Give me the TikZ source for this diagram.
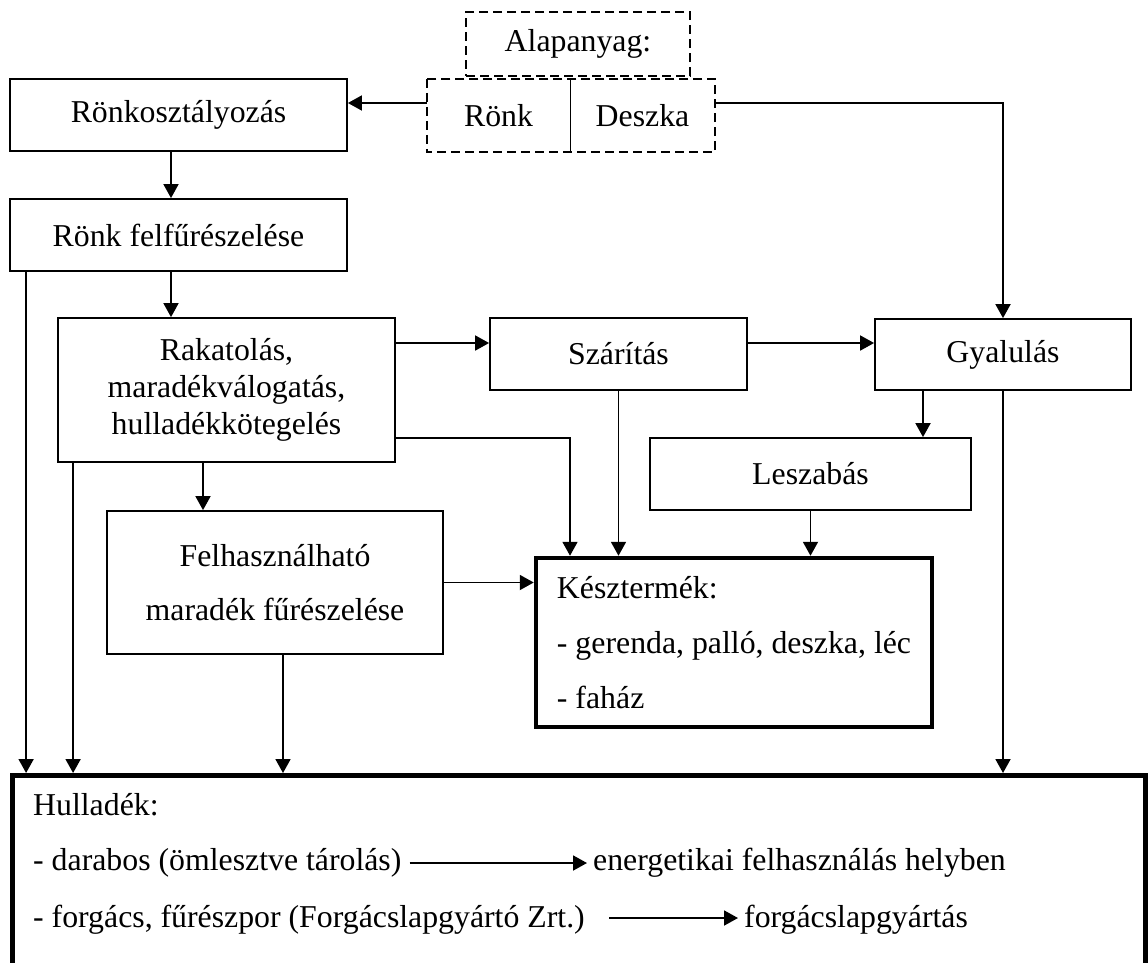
\documentclass[tikz,border=0pt]{standalone}
\usepackage{fontspec}
\setmainfont{Liberation Serif}
\usetikzlibrary{arrows.meta}
\begin{document}
\begin{tikzpicture}[x=1pt,y=-1pt,
  txt/.style={font=\fontsize{31.8}{37}\selectfont},
  box/.style={draw, line width=1.8pt, txt, align=center, inner sep=0pt},
  bigbox/.style={draw, line width=4.5pt, inner sep=0pt},
  dashes/.style={line width=1.8pt, dash pattern=on 9pt off 5pt},
  conn/.style={line width=1.8pt},
  arr/.style={conn, -{Triangle[length=14pt,width=15pt]}},
  htxt/.style={txt, anchor=base west, inner sep=0pt},
]
\useasboundingbox (0,0) rectangle (1148,962);
\clip (0,0) rectangle (1148,962);

% raw material
\node[txt, draw, dashes, inner sep=0pt, minimum width=224pt, minimum height=64pt] (alap) at (578,44) {Alapanyag:};
\node[txt, inner sep=0pt, minimum width=143pt, minimum height=73pt] (ronk) at (498.5,115.5) {Rönk};
\node[txt, inner sep=0pt, minimum width=145pt, minimum height=73pt] (deszka) at (642.5,115.5) {Deszka};
\draw[dashes] (ronk.north west) rectangle (deszka.south east);
\draw[line width=0.6pt] (ronk.north east) -- (ronk.south east);

% process steps
\node[box, minimum width=337pt, minimum height=72pt] (rk) at (178.5,115) {Rönkosztályozás};
\node[box, minimum width=337pt, minimum height=72pt] (rf) at (178.5,235) {Rönk felfűrészelése};
\node[box, minimum width=337pt, minimum height=144pt] (rak) at (226.5,390) {Rakatolás,\\maradékválogatás,\\hulladékkötegelés};
\node[box, minimum width=257pt, minimum height=72pt] (szar) at (618.5,354) {Szárítás};
\node[box, minimum width=256pt, minimum height=71pt] (gyal) at (1003,354.5) {Gyalulás};
\node[box, minimum width=321pt, minimum height=72pt] (lesz) at (810.5,474) {Leszabás};
\node[box, font=\fontsize{31.8}{54}\selectfont, minimum width=336pt, minimum height=143pt] (fel) at (275,582.5) {Felhasználható\\maradék fűrészelése};

% finished product
\node[bigbox, font=\fontsize{31.8}{55}\selectfont, align=left, minimum width=396pt, minimum height=169pt] (kesz) at (734,642.5)
  {Késztermék:\\- gerenda, palló, deszka, léc\\- faház};

% waste
\node[bigbox, minimum width=1133pt, minimum height=260pt, anchor=north west] (hull) at (10,773) {};
\node[htxt] (h0) at (33,815) {Hulladék:};
\node[htxt] (d1) at (33,870) {- darabos (ömlesztve tárolás)};
\node[htxt] (d2) at (593,870) {energetikai felhasználás helyben};
\node[htxt] (f1) at (33,927) {- forgács, fűrészpor (Forgácslapgyártó Zrt.)};
\node[htxt] (f2) at (744,927) {forgácslapgyártás};
\draw[arr] ([shift={(8pt,7pt)}]d1.base east) -- ([shift={(-6pt,7pt)}]d2.base west);
\draw[arr] ([shift={(24pt,9pt)}]f1.base east) -- ([shift={(-6pt,9pt)}]f2.base west);

% connectors
\coordinate (ronkout) at ([yshift=12.5pt]ronk.west);
\draw[arr] (ronkout) -- (rk.east |- ronkout);
\coordinate (deszout) at ([yshift=12.5pt]deszka.east);
\draw[arr] (deszout) -| (gyal.north);
\coordinate (rkout) at ([xshift=-7.5pt]rk.south);
\draw[arr] (rkout) -- (rf.north -| rkout);
\coordinate (rfout) at ([xshift=-7.5pt]rf.south);
\draw[arr] (rfout) -- (rak.north -| rfout);
\coordinate (rfwaste) at ([xshift=17pt]rf.south west);
\draw[arr] (rfwaste) -- (hull.north -| rfwaste);
\coordinate (rakdry) at ([yshift=47pt]rak.east);
\draw[arr] (rakdry) -- (szar.west |- rakdry);
\coordinate (szarout) at ([yshift=11pt]szar.east);
\draw[arr] (szarout) -- (gyal.west |- szarout);
\coordinate (rakprod) at ([yshift=-48pt]rak.east);
\coordinate (keszin) at ([xshift=-164pt]kesz.north);
\draw[arr] (rakprod) -| (keszin);
\draw[arr] (szar.south) -- (szar.south |- kesz.north);
\coordinate (gyalcut) at ([xshift=-80pt]gyal.south);
\draw[arr] (gyalcut) -- (lesz.north -| gyalcut);
\draw[arr] (lesz.south) -- (lesz.south |- kesz.north);
\draw[arr] (gyal.south) -- (gyal.south |- hull.north);
\coordinate (rakrest) at ([xshift=-23.5pt]rak.south);
\draw[arr] (rakrest) -- (fel.north -| rakrest);
\coordinate (rakwaste) at ([xshift=16pt]rak.south west);
\draw[arr] (rakwaste) -- (hull.north -| rakwaste);
\draw[arr] (fel.east) -- (kesz.west |- fel.east);
\coordinate (felwaste) at ([xshift=8pt]fel.south);
\draw[arr] (felwaste) -- (hull.north -| felwaste);
\end{tikzpicture}
\end{document}
